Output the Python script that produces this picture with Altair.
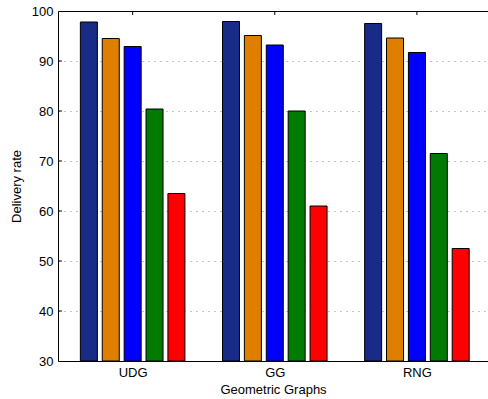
import altair as alt
import pandas as pd

groups = ["UDG", "GG", "RNG"]
series = ["S1", "S2", "S3", "S4", "S5"]
colors = ["#172B87", "#DF7F00", "#0000FF", "#007A00", "#FF0000"]
s1 = [97.8, 97.9, 97.5]
s2 = [94.5, 95.1, 94.6]
s3 = [92.9, 93.2, 91.7]
s4 = [80.4, 80.0, 71.5]
s5 = [63.5, 61.0, 52.5]
y_ticks = [30, 40, 50, 60, 70, 80, 90, 100]

rows = []
for si, (name, vals) in enumerate(zip(series, [s1, s2, s3, s4, s5])):
    for gi, g in enumerate(groups):
        rows.append({"group": g, "g": gi + 1, "s": si, "series": name, "value": vals[gi]})
df = pd.DataFrame(rows)
gdf = pd.DataFrame({"group": groups, "g": list(range(1, len(groups) + 1))})
ydf = pd.DataFrame({"t": y_ticks[1:-1]})

FONT = "Liberation Sans"
xscale = alt.Scale(domain=[0.51, 3.465], nice=False, zero=False)
yscale = alt.Scale(domain=[30, 100], nice=False, zero=False)

label_expr = " : ".join(
    [f"datum.value == {i + 1} ? '{g}'" for i, g in enumerate(groups[:-1])] + [f"'{groups[-1]}'"]
)

bars = alt.Chart(df).transform_calculate(
    pos="datum.g + (datum.s - 2) * 0.154"
).mark_bar(size=17, stroke="black", strokeWidth=1).encode(
    x=alt.X("pos:Q", scale=xscale,
            axis=alt.Axis(values=[1, 2, 3], labelExpr=label_expr, grid=False, ticks=False,
                          domainColor="black", domainWidth=1, labelPadding=5,
                          title="Geometric Graphs", titlePadding=4)),
    y=alt.Y("value:Q", scale=yscale,
            axis=alt.Axis(values=y_ticks, title="Delivery rate", grid=True, gridDash=[1, 5],
                          gridColor="#888888", gridWidth=1, ticks=False, domainColor="black",
                          domainWidth=1, labelPadding=5, titlePadding=8)),
    y2=alt.datum(30),
    color=alt.Color("series:N", scale=alt.Scale(domain=series, range=colors), legend=None),
)

top_ticks = alt.Chart(gdf).mark_rule(color="black", strokeWidth=1).encode(
    x=alt.X("g:Q", scale=xscale,
            axis=alt.Axis(orient="top", labels=False, ticks=False, title=None, grid=False,
                          domainColor="black", domainWidth=1)),
    y=alt.value(0),
    y2=alt.value(4),
)

left_ticks = alt.Chart(ydf).mark_rule(color="black", strokeWidth=1).encode(
    y=alt.Y("t:Q", scale=yscale),
    x=alt.value(0),
    x2=alt.value(4),
)

chart = alt.layer(bars, left_ticks, top_ticks).resolve_axis(x="independent").properties(
    width=430, height=350,
    autosize=alt.AutoSizeParams(type="none"),
    padding={"left": 58, "top": 11, "right": 0, "bottom": 38},
).configure_axis(
    labelFont=FONT, titleFont=FONT, labelFontSize=13, titleFontSize=13,
    titleFontWeight="normal", labelColor="#000000", titleColor="#000000",
).configure_view(stroke=None)

chart.save("out.html", embed_options={"renderer": "svg", "actions": False})
